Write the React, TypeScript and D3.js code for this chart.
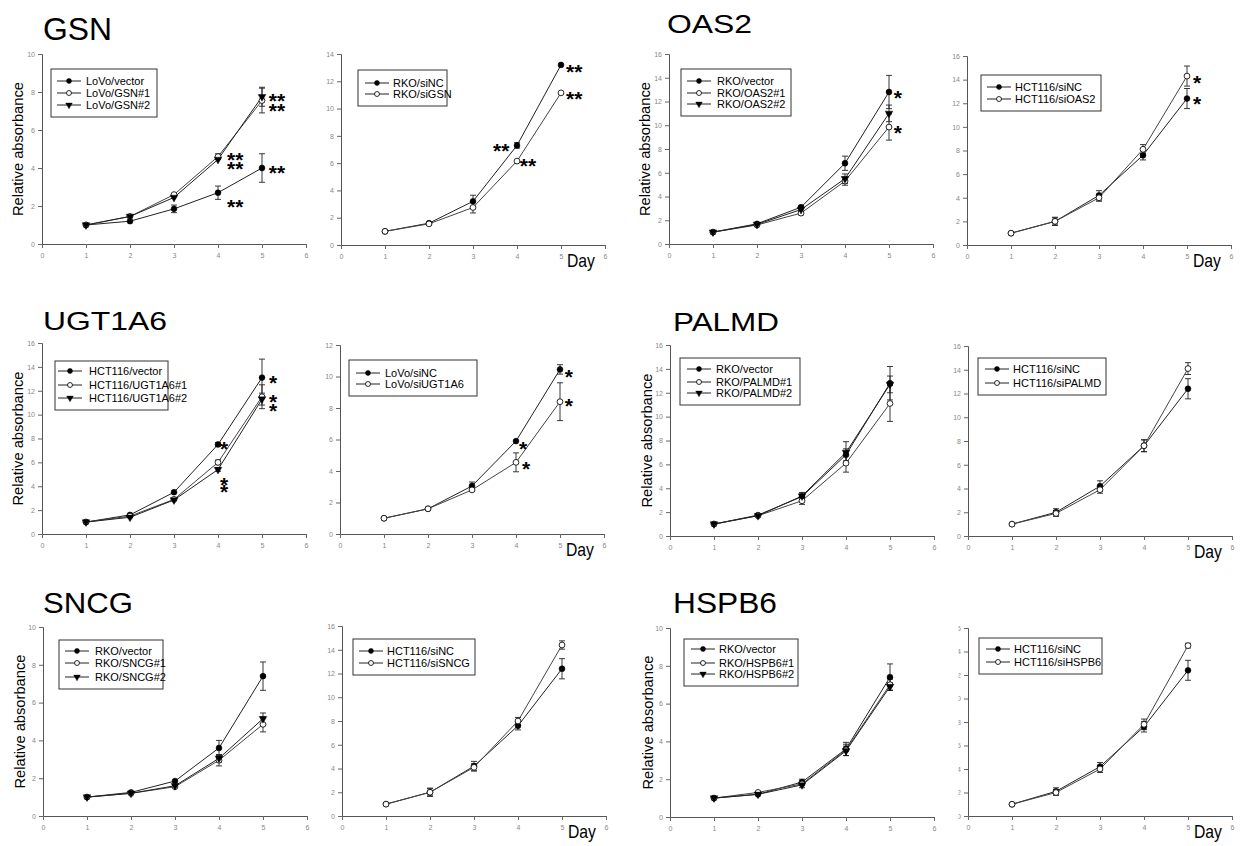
import React, { useEffect, useRef } from "react";
import * as d3 from "d3";

// ---------- DATA ----------
const days = [1, 2, 3, 4, 5];
const xTickValues = [0, 1, 2, 3, 4, 5, 6];
const yLabelText = "Relative absorbance";
const xLabelText = "Day";

// GSN – LoVo overexpression
const gsnLoVoVector = [1.0, 1.2, 1.85, 2.7, 4.0];
const gsnLoVoVectorErr = [0, 0.05, 0.2, 0.35, 0.75];
const gsnLoVoGSN1 = [1.0, 1.45, 2.6, 4.6, 7.55];
const gsnLoVoGSN1Err = [0, 0.05, 0.1, 0.15, 0.65];
const gsnLoVoGSN2 = [1.0, 1.45, 2.45, 4.45, 7.75];
const gsnLoVoGSN2Err = [0, 0.05, 0.1, 0.1, 0.5];
const gsnLoVoStars = [
  { x: 5.34, y: [7.8, 7.3], t: "**" },
  { x: 4.39, y: [4.74, 4.26], t: "**" },
  { x: 5.34, y: [4.05], t: "**" },
  { x: 4.39, y: [2.26], t: "**" },
];
// GSN – RKO knockdown
const gsnRkoSiNC = [1.0, 1.6, 3.2, 7.3, 13.2];
const gsnRkoSiNCErr = [0, 0.1, 0.45, 0.2, 0.1];
const gsnRkoSiGSN = [1.0, 1.55, 2.75, 6.15, 11.15];
const gsnRkoSiGSNErr = [0, 0.1, 0.4, 0.1, 0.1];
const gsnRkoStars = [
  { x: 3.64, y: [7.33], t: "**" }, { x: 4.25, y: [6.23], t: "**" },
  { x: 5.3, y: [13.1], t: "**" }, { x: 5.3, y: [11.1], t: "**" },
];
// OAS2 – RKO overexpression
const oasRkoVector = [1.0, 1.7, 3.1, 6.8, 12.8];
const oasRkoVectorErr = [0, 0.1, 0.15, 0.6, 1.4];
const oasRkoOAS1 = [1.0, 1.6, 2.6, 5.3, 9.85];
const oasRkoOAS1Err = [0, 0.1, 0.15, 0.35, 1.1];
const oasRkoOAS2 = [1.0, 1.65, 2.9, 5.5, 11.0];
const oasRkoOAS2Err = [0, 0.1, 0.15, 0.4, 0.7];
const oasRkoStars = [{ x: 5.2, y: [12.8], t: "*" }, { x: 5.2, y: [9.86], t: "*" }];
// OAS2 – HCT116 knockdown
const oasHctSiNC = [1.0, 2.0, 4.2, 7.6, 12.4];
const oasHctSiNCErr = [0, 0.35, 0.4, 0.4, 0.85];
const oasHctSiOAS2 = [1.0, 2.0, 4.0, 8.1, 14.3];
const oasHctSiOAS2Err = [0, 0.3, 0.3, 0.4, 0.85];
const oasHctStars = [{ x: 5.23, y: [14.2], t: "*" }, { x: 5.23, y: [12.45], t: "*" }];
// UGT1A6 – HCT116 overexpression
const ugtHctVector = [1.0, 1.6, 3.5, 7.5, 13.1];
const ugtHctVectorErr = [0, 0.1, 0.1, 0.15, 1.55];
const ugtHctUGT1 = [1.0, 1.5, 2.9, 6.0, 11.5];
const ugtHctUGT1Err = [0, 0.1, 0.1, 0.2, 1.0];
const ugtHctUGT2 = [1.0, 1.4, 2.85, 5.4, 11.3];
const ugtHctUGT2Err = [0, 0.1, 0.1, 0.15, 0.5];
const ugtHctStars = [
  { x: 5.25, y: [13.1], t: "*" }, { x: 5.25, y: [11.5, 10.75], t: "*" },
  { x: 4.14, y: [7.56], t: "*" }, { x: 4.14, y: [4.6, 3.95], t: "*" },
];
// UGT1A6 – LoVo knockdown
const ugtLoVoSiNC = [1.0, 1.6, 3.05, 5.9, 10.45];
const ugtLoVoSiNCErr = [0, 0.05, 0.25, 0.1, 0.3];
const ugtLoVoSiUGT = [1.0, 1.6, 2.8, 4.55, 8.4];
const ugtLoVoSiUGTErr = [0, 0.05, 0.1, 0.6, 1.2];
const ugtLoVoStars = [
  { x: 5.2, y: [10.35], t: "*" }, { x: 5.2, y: [8.5], t: "*" },
  { x: 4.16, y: [5.78], t: "*" }, { x: 4.23, y: [4.5], t: "*" },
];
// PALMD – RKO overexpression
const palRkoVector = [1.0, 1.75, 3.3, 6.8, 12.8];
const palRkoVectorErr = [0, 0.05, 0.3, 0.5, 1.4];
const palRkoPAL1 = [1.0, 1.7, 2.95, 6.1, 11.1];
const palRkoPAL1Err = [0, 0.05, 0.3, 0.75, 1.5];
const palRkoPAL2 = [1.0, 1.7, 3.35, 7.0, 12.7];
const palRkoPAL2Err = [0, 0.05, 0.3, 0.9, 0.7];
// PALMD – HCT116 knockdown
const palHctSiNC = [1.0, 2.0, 4.2, 7.6, 12.4];
const palHctSiNCErr = [0, 0.3, 0.45, 0.5, 0.85];
const palHctSiPAL = [1.0, 1.9, 3.9, 7.6, 14.1];
const palHctSiPALErr = [0, 0.25, 0.3, 0.5, 0.5];
// SNCG – RKO overexpression
const sncRkoVector = [1.0, 1.25, 1.85, 3.6, 7.4];
const sncRkoVectorErr = [0, 0.05, 0.1, 0.4, 0.75];
const sncRkoSN1 = [1.0, 1.2, 1.55, 2.95, 4.85];
const sncRkoSN1Err = [0, 0.05, 0.1, 0.3, 0.4];
const sncRkoSN2 = [1.0, 1.2, 1.6, 3.05, 5.15];
const sncRkoSN2Err = [0, 0.05, 0.1, 0.2, 0.3];
// SNCG – HCT116 knockdown
const sncHctSiNC = [1.0, 2.0, 4.2, 7.6, 12.4];
const sncHctSiNCErr = [0, 0.35, 0.4, 0.35, 0.85];
const sncHctSiSN = [1.0, 2.0, 4.1, 8.0, 14.4];
const sncHctSiSNErr = [0, 0.3, 0.3, 0.3, 0.35];
// HSPB6 – RKO overexpression
const hspRkoVector = [1.0, 1.2, 1.85, 3.6, 7.4];
const hspRkoVectorErr = [0, 0.05, 0.15, 0.35, 0.7];
const hspRkoHS1 = [1.0, 1.3, 1.75, 3.55, 7.0];
const hspRkoHS1Err = [0, 0.05, 0.1, 0.3, 0.3];
const hspRkoHS2 = [1.0, 1.2, 1.7, 3.5, 6.9];
const hspRkoHS2Err = [0, 0.05, 0.15, 0.25, 0.2];
// HSPB6 – HCT116 knockdown
const hspHctSiNC = [1.0, 2.1, 4.2, 7.6, 12.4];
const hspHctSiNCErr = [0, 0.3, 0.35, 0.45, 0.85];
const hspHctSiHS = [1.0, 2.0, 4.0, 7.8, 14.5];
const hspHctSiHSErr = [0, 0.25, 0.3, 0.45, 0.2];

type Marker = "filled" | "open" | "tri";
type Series = { label: string; marker: Marker; values: number[]; errors: number[] };
type Star = { x: number; y: number[]; t: string };

const panels: {
  title?: string; titleSize?: number; titleLen?: number; titleX?: number; titleY?: number;
  x0: number; yB: number; yT: number; yMax: number;
  series: Series[]; stars: Star[];
  lg: { x: number; y: number; w: number; lineX: number; textX: number; rows: number[] };
  yLabelX?: number; day?: boolean; clipTicks?: boolean;
}[] = [
  {
    title: "GSN", titleSize: 32, titleLen: 69, titleX: 43, titleY: 40,
    x0: 42, yB: 244, yT: 54, yMax: 10, yLabelX: 23,
    series: [
      { label: "LoVo/vector", marker: "filled", values: gsnLoVoVector, errors: gsnLoVoVectorErr },
      { label: "LoVo/GSN#1", marker: "open", values: gsnLoVoGSN1, errors: gsnLoVoGSN1Err },
      { label: "LoVo/GSN#2", marker: "tri", values: gsnLoVoGSN2, errors: gsnLoVoGSN2Err },
    ],
    stars: gsnLoVoStars,
    lg: { x: 51, y: 69, w: 106, lineX: 57, textX: 86, rows: [81, 93, 105] },
  },
  {
    x0: 341, yB: 245, yT: 54, yMax: 14, day: true,
    series: [
      { label: "RKO/siNC", marker: "filled", values: gsnRkoSiNC, errors: gsnRkoSiNCErr },
      { label: "RKO/siGSN", marker: "open", values: gsnRkoSiGSN, errors: gsnRkoSiGSNErr },
    ],
    stars: gsnRkoStars,
    lg: { x: 358, y: 70, w: 89, lineX: 365, textX: 393, rows: [83, 94] },
  },
  {
    title: "OAS2", titleSize: 25, titleLen: 85, titleX: 667, titleY: 33,
    x0: 669, yB: 244, yT: 54, yMax: 16, yLabelX: 650,
    series: [
      { label: "RKO/vector", marker: "filled", values: oasRkoVector, errors: oasRkoVectorErr },
      { label: "RKO/OAS2#1", marker: "open", values: oasRkoOAS1, errors: oasRkoOAS1Err },
      { label: "RKO/OAS2#2", marker: "tri", values: oasRkoOAS2, errors: oasRkoOAS2Err },
    ],
    stars: oasRkoStars,
    lg: { x: 681, y: 69, w: 110, lineX: 687, textX: 717, rows: [81, 93, 104] },
  },
  {
    x0: 967, yB: 245, yT: 56, yMax: 16, day: true,
    series: [
      { label: "HCT116/siNC", marker: "filled", values: oasHctSiNC, errors: oasHctSiNCErr },
      { label: "HCT116/siOAS2", marker: "open", values: oasHctSiOAS2, errors: oasHctSiOAS2Err },
    ],
    stars: oasHctStars,
    lg: { x: 981, y: 75, w: 120, lineX: 987, textX: 1015, rows: [87, 99] },
  },
  {
    title: "UGT1A6", titleSize: 25, titleLen: 124, titleX: 43, titleY: 330,
    x0: 42, yB: 534, yT: 343, yMax: 16, yLabelX: 23,
    series: [
      { label: "HCT116/vector", marker: "filled", values: ugtHctVector, errors: ugtHctVectorErr },
      { label: "HCT116/UGT1A6#1", marker: "open", values: ugtHctUGT1, errors: ugtHctUGT1Err },
      { label: "HCT116/UGT1A6#2", marker: "tri", values: ugtHctUGT2, errors: ugtHctUGT2Err },
    ],
    stars: ugtHctStars,
    lg: { x: 55, y: 361, w: 113, lineX: 58, textX: 89, rows: [371, 385, 398] },
  },
  {
    x0: 340, yB: 534, yT: 345, yMax: 12, day: true,
    series: [
      { label: "LoVo/siNC", marker: "filled", values: ugtLoVoSiNC, errors: ugtLoVoSiNCErr },
      { label: "LoVo/siUGT1A6", marker: "open", values: ugtLoVoSiUGT, errors: ugtLoVoSiUGTErr },
    ],
    stars: ugtLoVoStars,
    lg: { x: 349, y: 360, w: 128, lineX: 356, textX: 385, rows: [373, 384] },
  },
  {
    title: "PALMD", titleSize: 25, titleLen: 106, titleX: 673, titleY: 331,
    x0: 670, yB: 536, yT: 345, yMax: 16, yLabelX: 652,
    series: [
      { label: "RKO/vector", marker: "filled", values: palRkoVector, errors: palRkoVectorErr },
      { label: "RKO/PALMD#1", marker: "open", values: palRkoPAL1, errors: palRkoPAL1Err },
      { label: "RKO/PALMD#2", marker: "tri", values: palRkoPAL2, errors: palRkoPAL2Err },
    ],
    stars: [],
    lg: { x: 680, y: 358, w: 120, lineX: 687, textX: 716, rows: [369, 382, 393] },
  },
  {
    x0: 968, yB: 536, yT: 346, yMax: 16, day: true,
    series: [
      { label: "HCT116/siNC", marker: "filled", values: palHctSiNC, errors: palHctSiNCErr },
      { label: "HCT116/siPALMD", marker: "open", values: palHctSiPAL, errors: palHctSiPALErr },
    ],
    stars: [],
    lg: { x: 978, y: 358, w: 128, lineX: 985, textX: 1013, rows: [369, 383] },
  },
  {
    title: "SNCG", titleSize: 29, titleLen: 90, titleX: 43, titleY: 613,
    x0: 43, yB: 816, yT: 627, yMax: 10, yLabelX: 25,
    series: [
      { label: "RKO/vector", marker: "filled", values: sncRkoVector, errors: sncRkoVectorErr },
      { label: "RKO/SNCG#1", marker: "open", values: sncRkoSN1, errors: sncRkoSN1Err },
      { label: "RKO/SNCG#2", marker: "tri", values: sncRkoSN2, errors: sncRkoSN2Err },
    ],
    stars: [],
    lg: { x: 59, y: 640, w: 104, lineX: 65, textX: 95, rows: [651, 663, 677] },
  },
  {
    x0: 342, yB: 816, yT: 626, yMax: 16, day: true,
    series: [
      { label: "HCT116/siNC", marker: "filled", values: sncHctSiNC, errors: sncHctSiNCErr },
      { label: "HCT116/siSNCG", marker: "open", values: sncHctSiSN, errors: sncHctSiSNErr },
    ],
    stars: [],
    lg: { x: 353, y: 639, w: 122, lineX: 359, textX: 387, rows: [651, 663] },
  },
  {
    title: "HSPB6", titleSize: 30, titleLen: 104, titleX: 673, titleY: 613,
    x0: 670, yB: 817, yT: 628, yMax: 10, yLabelX: 653,
    series: [
      { label: "RKO/vector", marker: "filled", values: hspRkoVector, errors: hspRkoVectorErr },
      { label: "RKO/HSPB6#1", marker: "open", values: hspRkoHS1, errors: hspRkoHS1Err },
      { label: "RKO/HSPB6#2", marker: "tri", values: hspRkoHS2, errors: hspRkoHS2Err },
    ],
    stars: [],
    lg: { x: 684, y: 639, w: 114, lineX: 691, textX: 719, rows: [649, 663, 674] },
  },
  {
    x0: 968, yB: 816, yT: 628, yMax: 16, day: true, clipTicks: true,
    series: [
      { label: "HCT116/siNC", marker: "filled", values: hspHctSiNC, errors: hspHctSiNCErr },
      { label: "HCT116/siHSPB6", marker: "open", values: hspHctSiHS, errors: hspHctSiHSErr },
    ],
    stars: [],
    lg: { x: 979, y: 638, w: 123, lineX: 986, textX: 1014, rows: [649, 662] },
  },
];

const FONT = "'Liberation Sans', Arial, Helvetica, sans-serif";
const UNIT = 44;

function MarkerShape({ m, x, y, k = 1 }: { m: Marker; x: number; y: number; k?: number }) {
  if (m === "filled") return <circle cx={x} cy={y} r={2.9 * k} fill="#000" stroke="#000" strokeWidth={0.6} />;
  if (m === "open") return <circle cx={x} cy={y} r={2.9 * k} fill="#fff" stroke="#111" strokeWidth={0.9} />;
  const p = d3.symbol().type(d3.symbolTriangle).size(26 * k * k)() as string;
  return <path d={p} transform={`translate(${x},${y}) rotate(180)`} fill="#000" stroke="#000" strokeWidth={0.4} />;
}

function Axis({ kind, scale, values, x, y, clipId }: any) {
  const ref = useRef<SVGGElement>(null);
  useEffect(() => {
    const g = d3.select(ref.current as SVGGElement);
    const ax = kind === "left"
      ? d3.axisLeft(scale).tickValues(values).tickSize(4).tickPadding(3).tickFormat(d3.format("d"))
      : d3.axisBottom(scale).tickValues(values).tickSize(4).tickPadding(5).tickFormat(d3.format("d"));
    g.call(ax as any);
    g.attr("font-size", null).attr("font-family", null);
    g.selectAll("path.domain").attr("stroke", "#555").attr("stroke-width", 1);
    g.selectAll(".tick line").attr("stroke", "#666");
    g.selectAll(".tick text").attr("fill", "#888").style("font-size", "7px").style("font-family", FONT);
    if (clipId) g.selectAll(".tick text").attr("clip-path", `url(#${clipId})`);
  }, [kind, scale, values, clipId]);
  return <g ref={ref} transform={`translate(${x},${y})`} />;
}

function Panel({ p, idx }: { p: (typeof panels)[number]; idx: number }) {
  const xs = d3.scaleLinear().domain([0, 6]).range([0, 6 * UNIT]);
  const ys = d3.scaleLinear().domain([0, p.yMax]).range([p.yB - p.yT, 0]);
  const yTicks = d3.range(0, p.yMax + 0.01, 2);
  const line = d3.line<number>().x((_, i) => xs(days[i])).y((v) => ys(v));
  const clipId = p.clipTicks ? `clipticks${idx}` : undefined;
  return (
    <g>
      {p.title && (
        <text x={p.titleX} y={p.titleY} fontSize={p.titleSize} fontFamily={FONT} fill="#000"
          textLength={p.titleLen} lengthAdjust="spacingAndGlyphs">{p.title}</text>
      )}
      {p.yLabelX !== undefined && (
        <text transform={`translate(${p.yLabelX},${(p.yB + p.yT) / 2}) rotate(-90)`} textAnchor="middle"
          fontSize={15} fontFamily={FONT} fill="#000" textLength={134} lengthAdjust="spacingAndGlyphs">{yLabelText}</text>
      )}
      {p.day && (
        <text x={p.x0 + 226} y={p.yB + 22} fontSize={19} fontFamily={FONT} fill="#000"
          textLength={28} lengthAdjust="spacingAndGlyphs">{xLabelText}</text>
      )}
      {clipId && (
        <defs>
          <clipPath id={clipId}>
            <rect x={-9.5} y={-20} width={40} height={400} />
          </clipPath>
        </defs>
      )}
      <Axis kind="left" scale={ys} values={yTicks} x={p.x0} y={p.yT} clipId={clipId} />
      <Axis kind="bottom" scale={xs} values={xTickValues} x={p.x0} y={p.yB} />
      <g transform={`translate(${p.x0},${p.yT})`}>
        {p.series.map((s, si) => (
          <path key={`l${si}`} d={line(s.values) as string} fill="none" stroke={s.marker === "open" ? "#444" : "#222"} strokeWidth={1} />
        ))}
        {p.series.map((s, si) =>
          s.values.map((v, i) =>
            s.errors[i] > 0.12 ? (
              <g key={`e${si}-${i}`} stroke="#222" strokeWidth={0.9}>
                <line x1={xs(days[i])} x2={xs(days[i])} y1={ys(v - s.errors[i])} y2={ys(v + s.errors[i])} />
                <line x1={xs(days[i]) - 3} x2={xs(days[i]) + 3} y1={ys(v - s.errors[i])} y2={ys(v - s.errors[i])} />
                <line x1={xs(days[i]) - 3} x2={xs(days[i]) + 3} y1={ys(v + s.errors[i])} y2={ys(v + s.errors[i])} />
              </g>
            ) : null
          )
        )}
        {p.series.map((s, si) =>
          s.values.map((v, i) => <MarkerShape key={`m${si}-${i}`} m={s.marker} x={xs(days[i])} y={ys(v)} />)
        )}
        {p.stars.map((st, i) => (
          <text key={`s${i}`} textAnchor="middle" fontSize={21}
            fontWeight="bold" fontFamily={FONT} fill="#000">
            {st.y.map((yy, j) => (
              <tspan key={j} x={xs(st.x)} y={ys(yy)} dy="0.6em">{st.t}</tspan>
            ))}
          </text>
        ))}
      </g>
      <g>
        <rect x={p.lg.x} y={p.lg.y} width={p.lg.w} height={p.lg.rows[p.lg.rows.length - 1] - p.lg.y + 12}
          fill="#fff" stroke="#333" strokeWidth={1} />
        {p.series.map((s, si) => (
          <g key={`lg${si}`}>
            <line x1={p.lg.lineX} x2={p.lg.lineX + 24} y1={p.lg.rows[si]} y2={p.lg.rows[si]} stroke="#222" strokeWidth={1} />
            <MarkerShape m={s.marker} x={p.lg.lineX + 12} y={p.lg.rows[si]} k={0.85} />
            <text x={p.lg.textX} y={p.lg.rows[si]} dy="0.36em" fontSize={11} fontFamily={FONT} fill="#000">{s.label}</text>
          </g>
        ))}
      </g>
    </g>
  );
}

export default function App() {
  return (
    <div>
      <style>{"body{margin:0;background:#fff}"}</style>
      <svg width={1243} height={846} style={{ display: "block", background: "#fff" }}>
        {panels.map((p, i) => (
          <Panel key={i} p={p} idx={i} />
        ))}
      </svg>
    </div>
  );
}
